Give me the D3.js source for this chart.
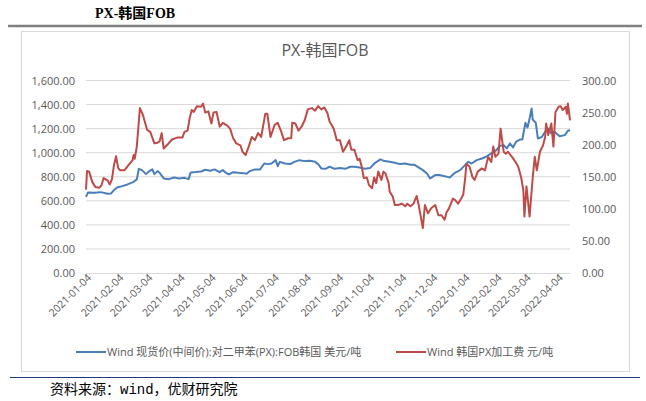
<!DOCTYPE html>
<html lang="zh">
<head>
  <meta charset="UTF-8">
  <title>PX-韩国FOB</title>
  <script src="https://d3js.org/d3.v7.min.js"></script>
  <style>
    body { margin: 0; background: #fff; }
  </style>
</head>
<body>
  <script>
    // 1. Data
    const pxDates = ["2021-01-04","2021-01-06","2021-01-12","2021-01-18","2021-01-25","2021-01-28","2021-01-31","2021-02-03","2021-02-08","2021-02-13","2021-02-19","2021-02-22","2021-02-24","2021-02-27","2021-03-03","2021-03-06","2021-03-09","2021-03-11","2021-03-14","2021-03-16","2021-03-20","2021-03-25","2021-03-30","2021-04-04","2021-04-09","2021-04-13","2021-04-15","2021-04-20","2021-04-25","2021-04-29","2021-05-04","2021-05-08","2021-05-13","2021-05-16","2021-05-19","2021-05-22","2021-05-26","2021-05-31","2021-06-05","2021-06-08","2021-06-11","2021-06-16","2021-06-21","2021-06-25","2021-06-29","2021-07-02","2021-07-06","2021-07-08","2021-07-10","2021-07-15","2021-07-20","2021-07-24","2021-07-29","2021-08-03","2021-08-08","2021-08-13","2021-08-16","2021-08-19","2021-08-23","2021-08-27","2021-09-01","2021-09-06","2021-09-11","2021-09-16","2021-09-20","2021-09-25","2021-09-30","2021-10-05","2021-10-10","2021-10-15","2021-10-19","2021-10-24","2021-10-29","2021-11-03","2021-11-08","2021-11-13","2021-11-17","2021-11-22","2021-11-25","2021-11-29","2021-12-02","2021-12-07","2021-12-11","2021-12-16","2021-12-21","2021-12-26","2021-12-31","2022-01-05","2022-01-08","2022-01-11","2022-01-16","2022-01-21","2022-01-25","2022-01-30","2022-02-04","2022-02-07","2022-02-11","2022-02-14","2022-02-17","2022-02-20","2022-02-23","2022-02-27","2022-03-01","2022-03-04","2022-03-06","2022-03-08","2022-03-10","2022-03-11","2022-03-14","2022-03-16","2022-03-20","2022-03-23","2022-03-26","2022-03-29","2022-04-01","2022-04-06","2022-04-11","2022-04-14","2022-04-16"];
    const pxPrices = [633,670,667,672,658,660,689,711,722,736,758,778,866,855,822,847,861,822,847,833,786,780,794,786,791,780,836,839,844,858,850,861,838,855,833,819,838,833,830,825,847,861,861,910,905,910,938,888,924,910,905,924,938,930,933,924,905,869,866,883,866,872,866,883,883,877,866,872,916,944,930,924,916,905,910,899,899,872,855,827,786,814,814,805,794,833,855,899,924,910,938,952,966,994,1022,1055,1063,1036,1077,1044,1091,1110,1110,1248,1209,1284,1367,1276,1248,1118,1132,1174,1201,1160,1174,1137,1146,1182,1187];

    const feeDates = ["2021-01-04","2021-01-05","2021-01-07","2021-01-10","2021-01-13","2021-01-17","2021-01-19","2021-01-21","2021-01-25","2021-01-27","2021-01-29","2021-01-31","2021-02-02","2021-02-04","2021-02-06","2021-02-10","2021-02-14","2021-02-18","2021-02-19","2021-02-20","2021-02-22","2021-02-25","2021-02-28","2021-03-04","2021-03-07","2021-03-11","2021-03-14","2021-03-16","2021-03-18","2021-03-20","2021-03-23","2021-03-28","2021-04-02","2021-04-07","2021-04-09","2021-04-12","2021-04-14","2021-04-16","2021-04-18","2021-04-21","2021-04-25","2021-04-27","2021-04-29","2021-05-02","2021-05-05","2021-05-07","2021-05-10","2021-05-13","2021-05-16","2021-05-20","2021-05-23","2021-05-26","2021-05-29","2021-06-02","2021-06-04","2021-06-07","2021-06-10","2021-06-13","2021-06-16","2021-06-19","2021-06-22","2021-06-26","2021-06-28","2021-07-01","2021-07-05","2021-07-08","2021-07-11","2021-07-14","2021-07-18","2021-07-21","2021-07-22","2021-07-25","2021-07-28","2021-07-31","2021-08-03","2021-08-06","2021-08-10","2021-08-13","2021-08-16","2021-08-19","2021-08-22","2021-08-25","2021-08-27","2021-08-31","2021-09-03","2021-09-06","2021-09-09","2021-09-12","2021-09-15","2021-09-17","2021-09-20","2021-09-23","2021-09-25","2021-09-27","2021-09-29","2021-10-02","2021-10-04","2021-10-07","2021-10-09","2021-10-11","2021-10-13","2021-10-16","2021-10-18","2021-10-20","2021-10-23","2021-10-24","2021-10-27","2021-10-29","2021-11-01","2021-11-05","2021-11-08","2021-11-10","2021-11-13","2021-11-16","2021-11-19","2021-11-21","2021-11-25","2021-11-27","2021-11-30","2021-12-03","2021-12-07","2021-12-10","2021-12-13","2021-12-16","2021-12-18","2021-12-20","2021-12-24","2021-12-26","2021-12-29","2022-01-01","2022-01-03","2022-01-05","2022-01-06","2022-01-09","2022-01-12","2022-01-14","2022-01-17","2022-01-21","2022-01-24","2022-01-27","2022-01-30","2022-02-01","2022-02-03","2022-02-06","2022-02-08","2022-02-11","2022-02-13","2022-02-15","2022-02-19","2022-02-22","2022-02-25","2022-02-28","2022-03-02","2022-03-03","2022-03-05","2022-03-08","2022-03-11","2022-03-13","2022-03-15","2022-03-18","2022-03-21","2022-03-23","2022-03-24","2022-03-26","2022-03-29","2022-03-31","2022-04-02","2022-04-05","2022-04-07","2022-04-09","2022-04-12","2022-04-13","2022-04-14","2022-04-16"];
    const feeValues = [130,159,158,142,134,133,137,148,144,138,146,168,182,164,160,160,168,176,184,178,197,257,246,223,220,202,203,205,218,194,199,208,211,211,220,222,241,254,251,260,259,264,250,252,233,250,251,228,234,230,225,210,202,199,189,184,197,212,207,218,212,248,248,212,231,234,222,207,210,210,234,233,222,228,238,255,257,253,260,255,258,249,236,225,207,207,189,197,207,192,192,176,178,166,148,149,137,132,149,140,158,145,158,155,140,127,119,106,106,108,104,108,104,108,120,106,70,106,93,101,106,90,90,83,95,100,116,114,108,116,122,150,170,166,149,145,158,163,160,181,173,197,181,186,225,189,186,189,181,174,166,148,129,88,135,88,148,181,160,189,199,212,233,215,233,197,251,259,260,254,259,248,264,238];

    const leftTicks = [0, 200, 400, 600, 800, 1000, 1200, 1400, 1600];
    const rightTicks = [0, 50, 100, 150, 200, 250, 300];
    const monthTicks = ["2021-01-04","2021-02-04","2021-03-04","2021-04-04","2021-05-04","2021-06-04","2021-07-04","2021-08-04","2021-09-04","2021-10-04","2021-11-04","2021-12-04","2022-01-04","2022-02-04","2022-03-04","2022-04-04"];
    const seriesNames = ["Wind 现货价(中间价):对二甲苯(PX):FOB韩国 美元/吨", "Wind 韩国PX加工费 元/吨"];

    const parse = d3.timeParse("%Y-%m-%d");
    const fmt = d3.timeFormat("%Y-%m-%d");
    const sans = "'Open Sans', 'Noto Sans CJK SC', sans-serif";

    // 2. SVG
    const width = 646, height = 401;
    const svg = d3.select("body").append("svg")
      .attr("width", width)
      .attr("height", height)
      .attr("font-family", sans);

    // page header
    svg.append("text")
      .attr("x", 95).attr("y", 18)
      .attr("font-size", 14).attr("font-weight", "bold")
      .attr("font-family", "'Liberation Serif', 'Noto Sans CJK SC', serif")
      .attr("fill", "#000")
      .text("PX-韩国FOB");
    svg.append("line")
      .attr("x1", 8).attr("x2", 642).attr("y1", 26).attr("y2", 26)
      .attr("stroke", "#808080").attr("stroke-width", 2.5);

    // chart frame
    svg.append("rect")
      .attr("x", 21.5).attr("y", 31.5).attr("width", 608).attr("height", 340)
      .attr("fill", "#fff").attr("stroke", "#d9d9d9");

    svg.append("text")
      .attr("x", 325).attr("y", 56)
      .attr("text-anchor", "middle")
      .attr("font-size", 16).attr("fill", "#595959")
      .text("PX-韩国FOB");

    // 3. Scales
    const x = d3.scaleTime()
      .domain([parse("2021-01-04"), parse("2022-04-16")])
      .range([86, 570]);
    const yL = d3.scaleLinear().domain([0, 1600]).range([273, 80.5]);
    const yR = d3.scaleLinear().domain([0, 300]).range([273, 80.5]);

    // 4. Grid
    svg.append("g")
      .selectAll("line")
      .data(leftTicks.slice(1))
      .join("line")
      .attr("x1", 86).attr("x2", 570)
      .attr("y1", d => yL(d)).attr("y2", d => yL(d))
      .attr("stroke", "#d9d9d9");

    // 5. Axes
    const axisL = svg.append("g")
      .attr("transform", "translate(86,0)")
      .call(d3.axisLeft(yL).tickValues(leftTicks).tickFormat(d3.format(",.2f")).tickSize(0).tickPadding(11));
    axisL.select(".domain").remove();

    const axisR = svg.append("g")
      .attr("transform", "translate(570,0)")
      .call(d3.axisRight(yR).tickValues(rightTicks).tickFormat(d3.format(".2f")).tickSize(0).tickPadding(12));
    axisR.select(".domain").remove();

    [axisL, axisR].forEach(a => a.attr("font-family", sans).selectAll("text")
      .attr("font-size", 11).attr("fill", "#595959"));

    const axisB = svg.append("g")
      .attr("transform", "translate(0,273)")
      .attr("font-family", sans)
      .call(d3.axisBottom(x).tickValues(monthTicks.map(parse)).tickFormat(fmt).tickSize(4).tickSizeOuter(0));
    axisB.attr("font-family", sans);
    axisB.select(".domain").attr("stroke", "#d9d9d9");
    axisB.selectAll(".tick line").attr("stroke", "#d9d9d9");
    axisB.selectAll("text")
      .attr("font-size", 10.5).attr("fill", "#595959")
      .attr("text-anchor", "end")
      .attr("transform", "translate(3,3) rotate(-45)")
      .attr("dy", "0.35em").attr("y", 0).attr("x", 0);

    // 6. Lines
    const pxData = pxDates.map((d, i) => ({ date: parse(d), v: pxPrices[i] }));
    const feeData = feeDates.map((d, i) => ({ date: parse(d), v: feeValues[i] }));

    svg.append("path")
      .datum(pxData)
      .attr("fill", "none").attr("stroke", "#4a7ebb").attr("stroke-width", 2)
      .attr("stroke-linejoin", "round")
      .attr("d", d3.line().x(d => x(d.date)).y(d => yL(d.v)));

    svg.append("path")
      .datum(feeData)
      .attr("fill", "none").attr("stroke", "#be4b48").attr("stroke-width", 2)
      .attr("stroke-linejoin", "round")
      .attr("d", d3.line().x(d => x(d.date)).y(d => yR(d.v)));

    // 7. Legend
    const legend = [
      { name: seriesNames[0], color: "#4a7ebb", x: 76 },
      { name: seriesNames[1], color: "#be4b48", x: 396 }
    ];
    const lg = svg.append("g").selectAll("g").data(legend).join("g")
      .attr("transform", d => `translate(${d.x},352)`);
    lg.append("line").attr("x1", 0).attr("x2", 30)
      .attr("stroke", d => d.color).attr("stroke-width", 2);
    lg.append("text").attr("x", 31).attr("dy", "0.35em")
      .attr("font-size", 11).attr("fill", "#595959")
      .text(d => d.name);

    // page footer
    svg.append("line")
      .attr("x1", 10).attr("x2", 640).attr("y1", 377.5).attr("y2", 377.5)
      .attr("stroke", "#1f3a7a").attr("stroke-width", 1);
    svg.append("text")
      .attr("x", 50).attr("y", 394)
      .attr("font-size", 14).attr("fill", "#000")
      .attr("font-family", "'Liberation Mono', 'Noto Sans CJK SC', monospace")
      .text("资料来源：wind，优财研究院");
  </script>
</body>
</html>
